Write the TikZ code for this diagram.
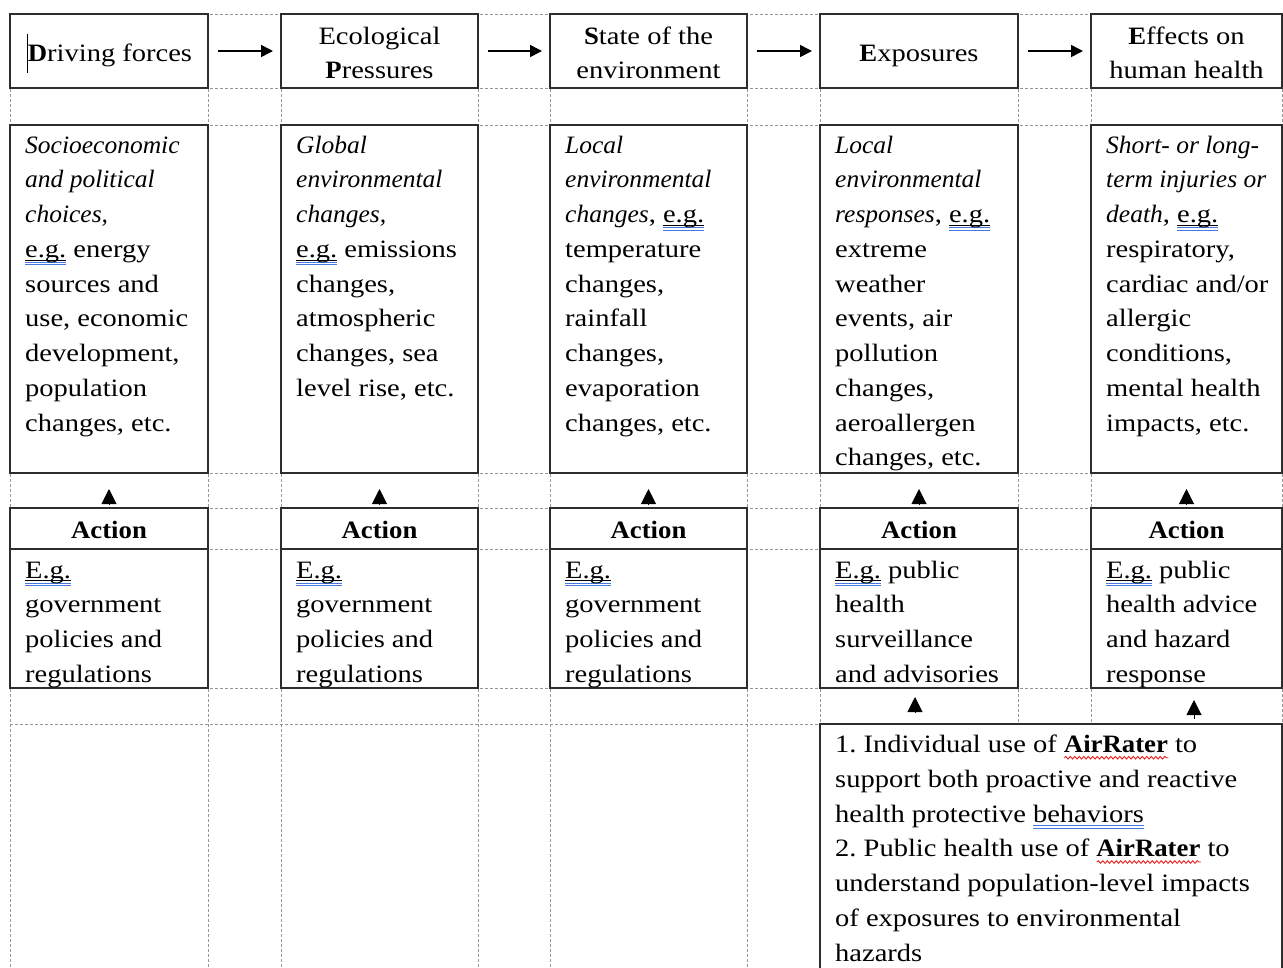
\documentclass[tikz,border=0pt]{standalone}
\usepackage{fontspec}
\setmainfont{Liberation Serif}[UprightFeatures={FakeStretch=1.14},ItalicFeatures={FakeStretch=1.02},BoldFeatures={FakeStretch=1.07}]
\usetikzlibrary{arrows.meta,decorations.pathmorphing,calc}
\definecolor{ublue}{RGB}{70,120,225}
\definecolor{wred}{RGB}{235,30,30}
\definecolor{gridcol}{RGB}{150,150,150}
\definecolor{boxline}{RGB}{45,45,45}
\newlength\ulen
\newcommand\egu[1]{\leavevmode\settowidth\ulen{#1}\rlap{\color{black}\rule[-3pt]{\ulen}{0.9pt}}\rlap{\color{ublue}\rule[-5.4pt]{\ulen}{0.8pt}}\rlap{\color{ublue}\rule[-7.8pt]{\ulen}{0.8pt}}#1}
\newcommand\bdbl[1]{\leavevmode\settowidth\ulen{#1}\rlap{\color{ublue}\rule[-3.8pt]{\ulen}{0.8pt}}\rlap{\color{ublue}\rule[-6.2pt]{\ulen}{0.8pt}}#1}
\newcommand\wavy[1]{\leavevmode\settowidth\ulen{#1}\rlap{\tikz[baseline=0pt]\draw[wred,line width=0.9pt,decorate,decoration={snake,amplitude=1.3pt,segment length=4.5pt}] (0pt,-5pt) -- (\ulen,-5pt);}#1}
\frenchspacing
\begin{document}
\begin{tikzpicture}[x=1pt,y=-1pt,
  gridline/.style={draw=gridcol,line width=0.8pt,dash pattern=on 3pt off 2pt},
  box/.style={draw=boxline,line width=1.3pt,fill=white,anchor=north west,inner sep=0pt,outer sep=0pt},
  body/.style={font=\fontsize{25}{34.75}\selectfont,anchor=north west,inner sep=0pt,align=left},
  hdrtext/.style={font=\fontsize{25}{34.75}\selectfont,inner sep=0pt,align=center},
  acttext/.style={font=\fontsize{25}{34.75}\selectfont\bfseries,inner sep=0pt,anchor=base},
  harrow/.style={-{Triangle[length=12pt,width=12pt]},line width=1.6pt,shorten <=10pt,shorten >=8pt},
  uptip/.style={-{Triangle[length=15pt,width=15pt]},line width=1pt}]
\useasboundingbox (0,0) rectangle (1283,967);
\fill[white] (0,0) rectangle (1283,967);
\clip (0,0) rectangle (1283,967);
% dashed table grid
\foreach \x in {10,208,281,478,550,747} \draw[gridline] (\x,14) -- (\x,967);
\foreach \x in {820,1018,1091,1282} \draw[gridline] (\x,14) -- (\x,724);
\foreach \y in {14,88,125,473,508,549,688,724} \draw[gridline] (10,\y) -- (1282,\y);
% solid boxes
\foreach \i/\l/\r in {1/10/208,2/281/478,3/550/747,4/820/1018,5/1091/1282} {
  \node[box,minimum width={\r pt-\l pt},minimum height=74pt] (hdr\i) at (\l,14) {};
  \node[box,minimum width={\r pt-\l pt},minimum height=348pt] (main\i) at (\l,125) {};
  \node[box,minimum width={\r pt-\l pt},minimum height=41pt] (act\i) at (\l,508) {};
  \node[box,minimum width={\r pt-\l pt},minimum height=139pt] (eg\i) at (\l,549) {};
}
\node[box,minimum width=462pt,minimum height=270pt] (bot) at (820,724) {};
% headers
\node[hdrtext,anchor=base] (h1) at (110,61) {\textbf{D}riving forces};
\draw[black,line width=1pt] (27,34) -- (27,73);
\node[hdrtext,anchor=north] (h2) at (379.5,19.7) {\strut Ecological\\\textbf{P}ressures};
\node[hdrtext,anchor=north] (h3) at (648.5,19.7) {\strut\textbf{S}tate of the\\environment};
\node[hdrtext,anchor=base] (h4) at (919,61) {\textbf{E}xposures};
\node[hdrtext,anchor=north] (h5) at (1186.5,19.7) {\strut\textbf{E}ffects on\\human health};
% header arrows
\draw[harrow] (hdr1.east) -- (hdr2.west);
\draw[harrow] (hdr2.east) -- (hdr3.west);
\draw[harrow] (hdr3.east) -- (hdr4.west);
\draw[harrow] (hdr4.east) -- (hdr5.west);
% main texts
\node[body] (m1) at (25,128.7) {\strut\textit{Socioeconomic}\\\textit{and political}\\\textit{choices,}\\\egu{e.g.} energy\\sources and\\use, economic\\development,\\population\\changes, etc.};
\node[body] (m2) at (296,128.7) {\strut\textit{Global}\\\textit{environmental}\\\textit{changes,}\\\egu{e.g.} emissions\\changes,\\atmospheric\\changes, sea\\level rise, etc.};
\node[body] (m3) at (565,128.7) {\strut\textit{Local}\\\textit{environmental}\\\textit{changes}, \egu{e.g.}\\temperature\\changes,\\rainfall\\changes,\\evaporation\\changes, etc.};
\node[body] (m4) at (835,128.7) {\strut\textit{Local}\\\textit{environmental}\\\textit{responses}, \egu{e.g.}\\extreme\\weather\\events, air\\pollution\\changes,\\aeroallergen\\changes, etc.};
\node[body] (m5) at (1106,128.7) {\strut\textit{Short- or long-}\\\textit{term injuries or}\\\textit{death}, \egu{e.g.}\\respiratory,\\cardiac and/or\\allergic\\conditions,\\mental health\\impacts, etc.};
% action labels
\foreach \i/\c in {1/109,2/379.5,3/648.5,4/919,5/1186.5}
  \node[acttext] (a\i) at (\c,538) {Action};
% action arrows
\foreach \i in {1,...,5}
  \draw[uptip,shorten <=4pt,shorten >=16pt] (act\i.north) -- (main\i.south);
% e.g. texts
\node[body] (e1) at (25,553.7) {\strut\egu{E.g.}\\government\\policies and\\regulations};
\node[body] (e2) at (296,553.7) {\strut\egu{E.g.}\\government\\policies and\\regulations};
\node[body] (e3) at (565,553.7) {\strut\egu{E.g.}\\government\\policies and\\regulations};
\node[body] (e4) at (835,553.7) {\strut\egu{E.g.} public\\health\\surveillance\\and advisories};
\node[body] (e5) at (1106,553.7) {\strut\egu{E.g.} public\\health advice\\and hazard\\response};
% bottom box text
\node[body] (btxt) at (835,728.2) {\strut 1. Individual use of \wavy{\textbf{AirRater}} to\\support both proactive and reactive\\health protective \bdbl{behaviors}\\2. Public health use of \wavy{\textbf{AirRater}} to\\understand population-level impacts\\of exposures to environmental\\hazards};
% arrows from bottom box
\coordinate (b4) at (915,724);
\coordinate (b5) at (1194,724);
\draw[uptip,shorten <=12pt,shorten >=9pt] (b4) -- (b4 |- eg4.south);
\draw[uptip,shorten <=5pt,shorten >=12pt] (b5) -- (b5 |- eg5.south);
\end{tikzpicture}
\end{document}
